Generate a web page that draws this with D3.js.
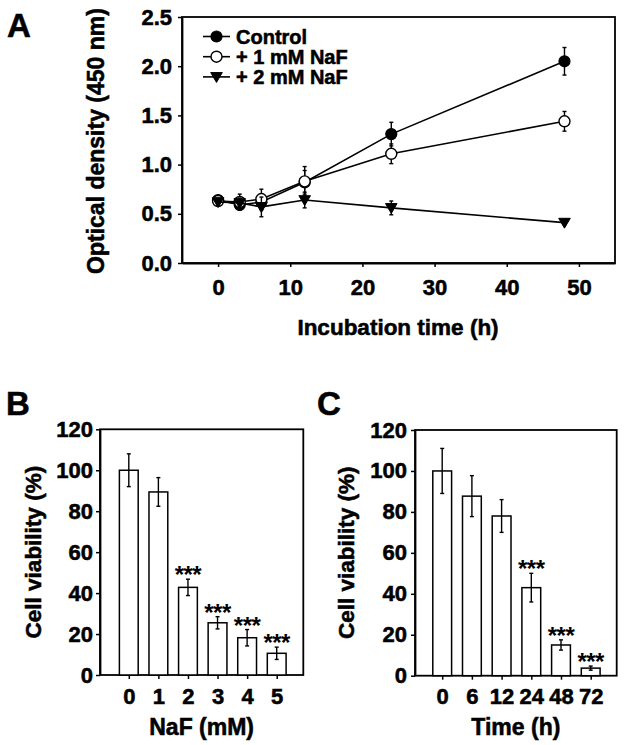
<!DOCTYPE html>
<html>
<head>
<meta charset="utf-8">
<script src="https://cdn.jsdelivr.net/npm/d3@7"></script>
<style>
  html, body { margin: 0; padding: 0; background: #fff; }
  svg { display: block; }
  text { font-family: "Liberation Sans", Arial, Helvetica, sans-serif; fill: #000; }
  text.b { stroke: #000; stroke-width: 0.55px; }
</style>
</head>
<body>
<svg id="chart" width="624" height="745"></svg>
<script>
// ---------- Data ----------
const timeA = [0, 3, 6, 12, 24, 48];
const controlMean = [0.64, 0.59, 0.62, 0.82, 1.31, 2.05];
const controlErr  = [0.04, 0.05, 0.08, 0.12, 0.12, 0.14];
const naf1Mean    = [0.63, 0.62, 0.65, 0.83, 1.11, 1.44];
const naf1Err     = [0.03, 0.08, 0.10, 0.15, 0.10, 0.10];
const naf2Mean    = [0.62, 0.61, 0.57, 0.64, 0.56, 0.41];
const naf2Err     = [0.03, 0.05, 0.10, 0.08, 0.07, 0.02];
const seriesNames = ["Control", "+ 1 mM NaF", "+ 2 mM NaF"];
const xTicksA = [0, 10, 20, 30, 40, 50];
const yTicksA = [0, 0.5, 1.0, 1.5, 2.0, 2.5];

const nafConc = ["0", "1", "2", "3", "4", "5"];
const viabilityNaF    = [100, 89.4, 42.8, 25.5, 18.2, 10.6];
const viabilityNaFErr = [8, 7, 4, 3, 4, 3];
const sigNaF = ["", "", "***", "***", "***", "***"];

const timeC = ["0", "6", "12", "24", "48", "72"];
const viabilityTime    = [100, 87.7, 78, 43, 15, 3.7];
const viabilityTimeErr = [11, 10, 8, 7, 2.5, 1];
const sigTime = ["", "", "", "***", "***", "***"];

const yTicksBC = [0, 20, 40, 60, 80, 100, 120];

// ---------- Drawing ----------
const svg = d3.select("#chart");
svg.append("rect").attr("width", 624).attr("height", 745).attr("fill", "#fff");

function styleAxis(g, fontSize) {
  g.select(".domain").attr("stroke", "#000").attr("stroke-width", 1.8);
  g.selectAll(".tick line").attr("stroke", "#000").attr("stroke-width", 1.5);
  g.selectAll(".tick text")
    .attr("class", "b")
    .attr("font-size", fontSize).attr("font-weight", "bold")
    .attr("font-family", "'Liberation Sans', Arial, sans-serif").attr("fill", "#000");
}

function frame(x0, x1, y0, y1) {
  svg.append("rect").attr("x", x0).attr("y", y0)
    .attr("width", x1 - x0).attr("height", y1 - y0)
    .attr("fill", "none").attr("stroke", "#000").attr("stroke-width", 1.8);
}

function errBar(g, x, yTop, yBot, cap) {
  g.append("line").attr("x1", x).attr("x2", x).attr("y1", yTop).attr("y2", yBot)
    .attr("stroke", "#000").attr("stroke-width", 1.4);
  [yTop, yBot].forEach(yy => g.append("line").attr("x1", x - cap).attr("x2", x + cap)
    .attr("y1", yy).attr("y2", yy).attr("stroke", "#000").attr("stroke-width", 1.4));
}

function panelLabel(t, x, y) {
  svg.append("text").attr("class", "b").attr("x", x).attr("y", y).text(t)
    .attr("font-size", 33).attr("font-weight", "bold");
}

// ===== Panel A =====
const xA = d3.scaleLinear().domain([-5, 55]).range([182, 615]);
const yA = d3.scaleLinear().domain([0, 2.5]).range([263, 17]);

svg.append("g").attr("transform", `translate(0,${yA(0)})`)
  .call(d3.axisBottom(xA).tickValues(xTicksA).tickSize(4).tickSizeOuter(0).tickPadding(12)
    .tickFormat(d3.format("d")))
  .call(g => styleAxis(g, 22));
svg.append("g").attr("transform", `translate(${xA(-5)},0)`)
  .call(d3.axisLeft(yA).tickValues(yTicksA).tickSize(4).tickSizeOuter(0).tickPadding(6)
    .tickFormat(d3.format(".1f")))
  .call(g => styleAxis(g, 22));
frame(xA(-5), xA(55), yA(2.5), yA(0));

const seriesA = [
  { name: seriesNames[0], mean: controlMean, err: controlErr, sym: "circleFilled" },
  { name: seriesNames[1], mean: naf1Mean, err: naf1Err, sym: "circleOpen" },
  { name: seriesNames[2], mean: naf2Mean, err: naf2Err, sym: "triangle" }
];

function drawSymbol(g, sym, cx, cy) {
  if (sym === "circleFilled") {
    g.append("circle").attr("cx", cx).attr("cy", cy).attr("r", 5.5)
      .attr("fill", "#000").attr("stroke", "#000").attr("stroke-width", 1.2);
  } else if (sym === "circleOpen") {
    g.append("circle").attr("cx", cx).attr("cy", cy).attr("r", 5.5)
      .attr("fill", "#fff").attr("stroke", "#000").attr("stroke-width", 1.4);
  } else {
    const s = 5.8;
    g.append("path")
      .attr("d", `M${cx - s},${cy - s * 0.75}L${cx + s},${cy - s * 0.75}L${cx},${cy + s * 0.95}Z`)
      .attr("fill", "#000").attr("stroke", "#000").attr("stroke-width", 1);
  }
}

const line = d3.line().x(d => xA(d[0])).y(d => yA(d[1]));
const gA = svg.append("g");
seriesA.forEach(s => {
  const pts = timeA.map((t, i) => [t, s.mean[i]]);
  gA.append("path").attr("d", line(pts)).attr("fill", "none")
    .attr("stroke", "#000").attr("stroke-width", 1.6);
  timeA.forEach((t, i) => errBar(gA, xA(t), yA(s.mean[i] + s.err[i]), yA(s.mean[i] - s.err[i]), 2));
  timeA.forEach((t, i) => drawSymbol(gA, s.sym, xA(t), yA(s.mean[i])));
});

// legend
const legA = svg.append("g");
seriesA.forEach((s, i) => {
  const yy = 36.5 + i * 20.2;
  legA.append("line").attr("x1", 203).attr("x2", 230).attr("y1", yy).attr("y2", yy)
    .attr("stroke", "#000").attr("stroke-width", 1.6);
  drawSymbol(legA, s.sym, 216.5, yy);
  legA.append("text").attr("class", "b").attr("x", 236).attr("y", yy).attr("dy", "0.36em")
    .attr("font-size", 20).attr("font-weight", "bold").text(s.name);
});

svg.append("text").attr("class", "b").attr("transform", `translate(104,141) rotate(-90)`)
  .attr("text-anchor", "middle").attr("font-size", 23).attr("font-weight", "bold")
  .text("Optical density (450 nm)");
svg.append("text").attr("class", "b").attr("x", 398).attr("y", 335).attr("text-anchor", "middle")
  .attr("font-size", 22.5).attr("font-weight", "bold").text("Incubation time (h)");
panelLabel("A", 7, 37);

// ===== Bar panels =====
function barPanel(opt) {
  const x = d3.scalePoint().domain(opt.cats).range(opt.xr);
  const y = d3.scaleLinear().domain([0, 120]).range(opt.yr);
  svg.append("g").attr("transform", `translate(0,${y(0)})`)
    .call(d3.axisBottom(x).tickSize(4).tickSizeOuter(0).tickPadding(9))
    .call(g => { styleAxis(g, 22); g.select(".domain").remove(); });
  svg.append("g").attr("transform", `translate(${opt.left},0)`)
    .call(d3.axisLeft(y).tickValues(yTicksBC).tickSize(4).tickSizeOuter(0).tickPadding(opt.lpad))
    .call(g => styleAxis(g, 22));
  frame(opt.left, opt.right, y(120), y(0));
  const g = svg.append("g");
  const bw = 18.8;
  opt.cats.forEach((c, i) => {
    g.append("rect").attr("x", x(c) - bw / 2).attr("y", y(opt.vals[i]))
      .attr("width", bw).attr("height", y(0) - y(opt.vals[i]))
      .attr("fill", "#fff").attr("stroke", "#000").attr("stroke-width", 1.5);
  });
  opt.cats.forEach((c, i) => {
    errBar(g, x(c), y(opt.vals[i] + opt.errs[i]), y(opt.vals[i] - opt.errs[i]), 2);
    if (opt.sig[i]) {
      g.append("text").attr("x", x(c)).attr("y", y(opt.vals[i] + opt.errs[i]) + 4)
        .attr("text-anchor", "middle").attr("font-size", 24).attr("font-weight", "bold")
        .attr("letter-spacing", -0.5).text(opt.sig[i]);
    }
  });
  svg.append("text").attr("class", "b").attr("transform", `translate(${opt.titleX},${(opt.yr[0] + opt.yr[1]) / 2}) rotate(-90)`)
    .attr("text-anchor", "middle").attr("font-size", 22.5).attr("font-weight", "bold")
    .text("Cell viability (%)");
  svg.append("text").attr("class", "b").attr("x", (opt.left + opt.right) / 2).attr("y", 735).attr("text-anchor", "middle")
    .attr("font-size", 23).attr("font-weight", "bold").text(opt.xTitle);
}

barPanel({ cats: nafConc, vals: viabilityNaF, errs: viabilityNaFErr, sig: sigNaF,
  xr: [128.8, 276.7], yr: [675, 429.3], left: 100, right: 303.3, lpad: 3,
  titleX: 41, xTitle: "NaF (mM)" });
barPanel({ cats: timeC, vals: viabilityTime, errs: viabilityTimeErr, sig: sigTime,
  xr: [442.2, 590.7], yr: [675.7, 430], left: 415, right: 616.7, lpad: 4,
  titleX: 354, xTitle: "Time (h)" });

panelLabel("B", 6, 415);
panelLabel("C", 317, 415);
</script>
</body>
</html>
